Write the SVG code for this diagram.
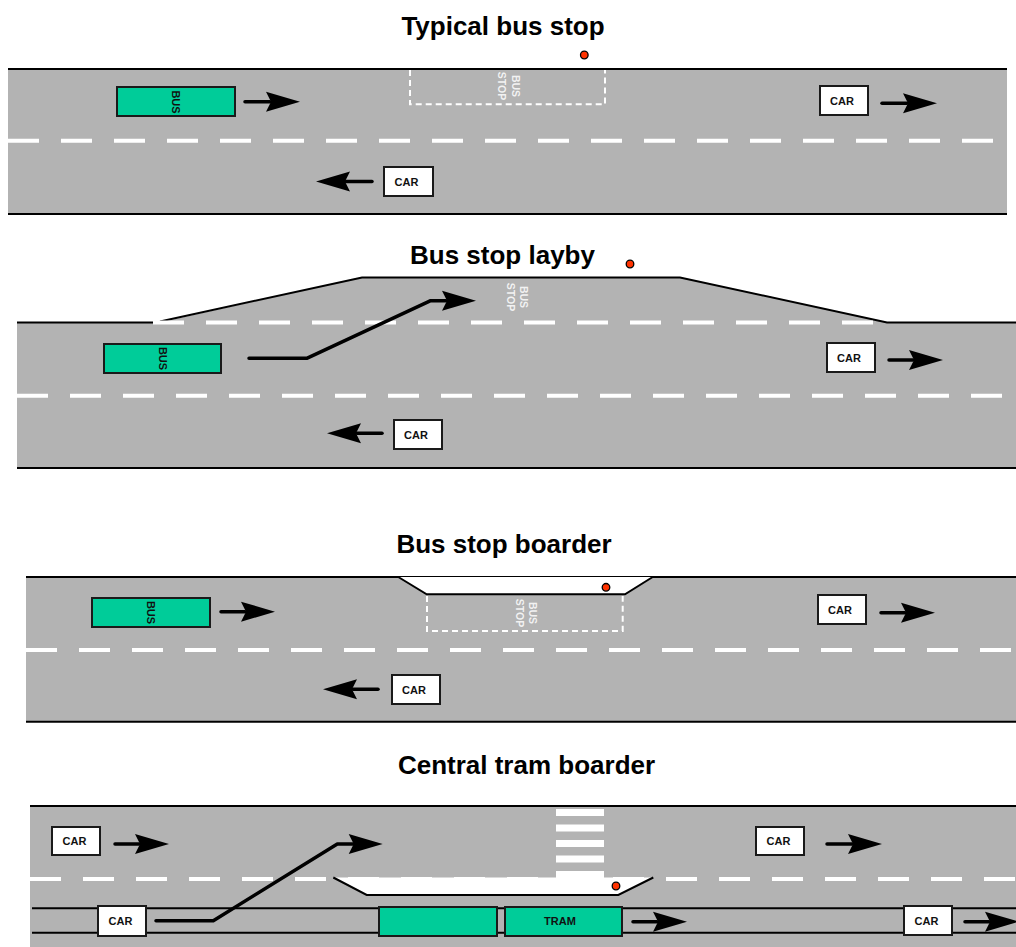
<svg xmlns="http://www.w3.org/2000/svg" width="1016" height="947" viewBox="0 0 1016 947">
<style>
.road{fill:#b3b3b3}
.edge{stroke:#000;stroke-width:2;fill:none}
.lane{stroke:#fff;stroke-width:4;stroke-dasharray:31 22;fill:none}
.stopbox{stroke:#fff;stroke-width:2;stroke-dasharray:6 4;fill:none}
.bus{fill:#00cc99;stroke:#1a1a1a;stroke-width:2}
.car{fill:#fff;stroke:#1a1a1a;stroke-width:2}
.lbl{font-family:"Liberation Sans",Arial,sans-serif;font-weight:bold;font-size:11px;fill:#111;text-anchor:middle}
.stoplbl{font-family:"Liberation Sans",Arial,sans-serif;font-weight:bold;font-size:10.5px;fill:#f2f2f2;text-anchor:middle}
.title{font-family:"Liberation Sans",Arial,sans-serif;font-weight:bold;font-size:26px;fill:#000;text-anchor:middle}
.pole{fill:#ff3300;stroke:#000;stroke-width:1.3}
.boarder{fill:#fff}
.mv{stroke:#000;stroke-width:3.5;fill:none;stroke-linecap:round;stroke-linejoin:round;marker-end:url(#ah)}
</style>
<defs>
<marker id="ah" viewBox="-35 -11 36 22" refX="-30" refY="0" markerWidth="36" markerHeight="22" markerUnits="userSpaceOnUse" orient="auto">
<path d="M0,0 L-34,-10 L-29,0 L-34,10 Z" fill="#000"/>
</marker>
</defs>

<!-- Section 1: Typical bus stop -->
<g id="road1">
<text class="title" x="503" y="35">Typical bus stop</text>
<rect class="road" x="8" y="69" width="999" height="145"/>
<line class="edge" x1="8" y1="69" x2="1007" y2="69"/>
<line class="edge" x1="8" y1="214" x2="1007" y2="214"/>
<line class="lane" x1="8" y1="140.7" x2="1007" y2="140.7"/>
</g>
<g id="stop1">
<path class="stopbox" d="M410,70 V104.3 H605 V70"/>
<g transform="translate(511.7,86) rotate(90)">
<text class="stoplbl" x="0" y="0">BUS</text>
<text class="stoplbl" x="0" y="13.5">STOP</text>
</g>
<circle class="pole" cx="584.3" cy="55" r="3.8"/>
</g>
<g id="bus1"><rect class="bus" x="117" y="87" width="118" height="29"/>
<text class="lbl" transform="translate(176,102) rotate(90)" x="0" y="4">BUS</text></g>
<g id="car1a"><rect class="car" x="820" y="86" width="48" height="29"/><text class="lbl" x="842" y="104.5">CAR</text></g>
<g id="car1b"><rect class="car" x="384" y="167" width="49" height="29"/><text class="lbl" x="406.5" y="185.5">CAR</text></g>

<!-- Section 2: Bus stop layby -->
<g id="road2">
<text class="title" x="502.5" y="264">Bus stop layby</text>
<path class="road" d="M17,322.5 H160 L362,277.5 H680 L887,322.5 H1016 V468 H17 Z"/>
<line class="edge" x1="17" y1="322.5" x2="153" y2="322.5"/>
<polyline class="edge" points="160,321.5 362,277.5 680,277.5 887,322.5 1016,322.5"/>
<line class="edge" x1="17" y1="468" x2="1016" y2="468"/>
<line class="lane" x1="153" y1="322.5" x2="875" y2="322.5"/>
<line class="lane" x1="17" y1="395.7" x2="1016" y2="395.7"/>
</g>
<g id="stop2">
<g transform="translate(520,297) rotate(90)">
<text class="stoplbl" x="0" y="0">BUS</text>
<text class="stoplbl" x="0" y="13.5">STOP</text>
</g>
<circle class="pole" cx="630" cy="264" r="3.8"/>
</g>
<g id="bus2"><rect class="bus" x="104" y="344" width="117" height="29"/>
<text class="lbl" transform="translate(162.5,358.5) rotate(90)" x="0" y="4">BUS</text></g>
<g id="car2a"><rect class="car" x="827" y="343" width="48" height="29"/><text class="lbl" x="849" y="361.5">CAR</text></g>
<g id="car2b"><rect class="car" x="394" y="420" width="48" height="29"/><text class="lbl" x="416" y="438.5">CAR</text></g>

<!-- Section 3: Bus stop boarder -->
<g id="road3">
<text class="title" x="504" y="553">Bus stop boarder</text>
<rect class="road" x="26" y="577" width="990" height="145"/>
<line class="edge" x1="26" y1="577" x2="1016" y2="577"/>
<line class="edge" x1="26" y1="721.7" x2="1016" y2="721.7"/>
<line class="lane" x1="26" y1="650" x2="1016" y2="650"/>
</g>
<g id="stop3">
<polygon class="boarder" points="398.3,577 426.7,594.3 625,594.3 652.7,577"/>
<polyline class="edge" points="398.3,577 426.7,594.3 625,594.3 652.7,577"/>
<path class="stopbox" d="M427,596 V631 H622.7 V596"/>
<g transform="translate(529.3,613) rotate(90)">
<text class="stoplbl" x="0" y="0">BUS</text>
<text class="stoplbl" x="0" y="13.5">STOP</text>
</g>
<circle class="pole" cx="606" cy="587.3" r="3.8"/>
</g>
<g id="bus3"><rect class="bus" x="92" y="598" width="118" height="29"/>
<text class="lbl" transform="translate(151,612.5) rotate(90)" x="0" y="4">BUS</text></g>
<g id="car3a"><rect class="car" x="818" y="595" width="48" height="29"/><text class="lbl" x="840" y="613.5">CAR</text></g>
<g id="car3b"><rect class="car" x="392" y="675" width="48" height="29"/><text class="lbl" x="414" y="693.5">CAR</text></g>

<!-- Section 4: Central tram boarder -->
<g id="road4">
<text class="title" x="526.5" y="774">Central tram boarder</text>
<rect class="road" x="30" y="806" width="986" height="141"/>
<line class="edge" x1="30" y1="806" x2="1016" y2="806"/>
<line class="lane" x1="30" y1="879" x2="1016" y2="879"/>
<g fill="#fff">
<rect x="556" y="809" width="48" height="7"/>
<rect x="556" y="824.5" width="48" height="7"/>
<rect x="556" y="840" width="48" height="7"/>
<rect x="556" y="855.5" width="48" height="7"/>
<rect x="556" y="871" width="48" height="8"/>
</g>
<line class="edge" x1="32" y1="908.3" x2="1016" y2="908.3" stroke-width="3.3"/>
<line class="edge" x1="32" y1="932.7" x2="1016" y2="932.7" stroke-width="3.3"/>
</g>
<g id="stop4">
<polygon class="boarder" points="333.3,877.5 366.7,895 618.3,895 653.3,877.5"/>
<polyline class="edge" points="333.3,877.5 366.7,895 618.3,895 653.3,877.5"/>
<circle class="pole" cx="616" cy="886" r="3.8"/>
</g>
<g id="tram">
<rect class="bus" x="379" y="907" width="118" height="29"/>
<rect class="bus" x="505" y="907" width="117" height="29"/>
<text class="lbl" x="560" y="925">TRAM</text>
</g>
<g id="car4a"><rect class="car" x="52" y="827" width="48" height="28"/><text class="lbl" x="74.5" y="845">CAR</text></g>
<g id="car4b"><rect class="car" x="98" y="906" width="48" height="30"/><text class="lbl" x="120.5" y="925">CAR</text></g>
<g id="car4c"><rect class="car" x="756" y="827" width="48" height="28"/><text class="lbl" x="778.5" y="845">CAR</text></g>
<g id="car4d"><rect class="car" x="904" y="906" width="48" height="29"/><text class="lbl" x="926.5" y="924.5">CAR</text></g>

<g id="connectors">
<path class="mv" d="M245,101.7 H270"/>
<path class="mv" d="M372,181.5 H346"/>
<path class="mv" d="M882,103.3 H907"/>
<path class="mv" d="M249,358.3 L306.7,358.3 L430.7,300.7 L446,300.7"/>
<path class="mv" d="M382,433.3 H357"/>
<path class="mv" d="M889,360 H913"/>
<path class="mv" d="M221,611.7 H245"/>
<path class="mv" d="M378,689.3 H353"/>
<path class="mv" d="M881,612.7 H905"/>
<path class="mv" d="M115,844 H139"/>
<path class="mv" d="M156,920.7 L213.3,920.7 L337.3,844 L352.7,844"/>
<path class="mv" d="M827,844 H852"/>
<path class="mv" d="M633,921.7 H657"/>
<path class="mv" d="M965,921.7 H989"/>
</g>
</svg>
